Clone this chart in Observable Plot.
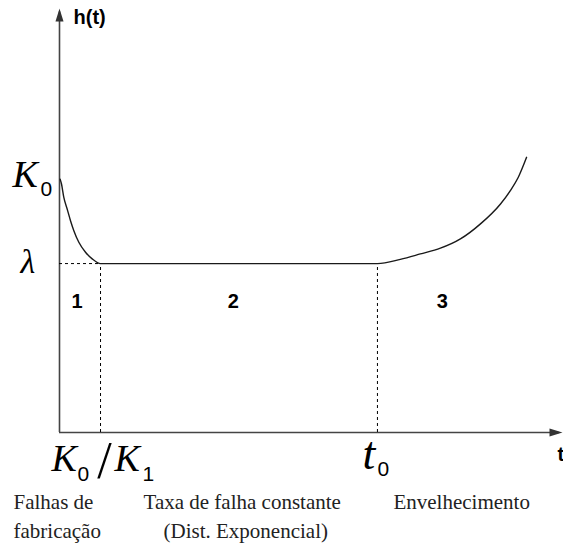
<!DOCTYPE html>
<html>
<head>
<meta charset="utf-8">
<script src="https://cdn.jsdelivr.net/npm/d3@7"></script>
<script src="https://cdn.jsdelivr.net/npm/@observablehq/plot@0.6"></script>
<style>
  body { margin: 0; background: #fff; }
  #chart svg { display: block; }
</style>
</head>
<body>
<div id="chart"></div>
<script>
// Bathtub hazard-rate curve h(t): infant mortality, constant rate, wear-out.

// Key levels of the hazard function
const K0 = 1.5;          // initial hazard h(0)
const lambda = 1.0;      // constant hazard level
const tBurnIn = 1.29;    // end of the early-failure phase, K0/K1
const t0 = 10;           // start of the wear-out phase
const tMax = 15.82;      // end of the time axis
const hMax = 2.51;       // top of the h(t) axis

// Early-failure (decreasing) branch
const burnInT = [0.02, 0.063, 0.136, 0.241, 0.346, 0.451, 0.608, 0.818, 1.028, 1.29];
const burnInH = [1.5, 1.471, 1.392, 1.323, 1.254, 1.195, 1.126, 1.067, 1.028, 1.0];

// Wear-out (increasing) branch
const wearOutT = [10.0, 10.72, 11.35, 11.98, 12.61, 13.24, 13.87, 14.18, 14.43, 14.69];
const wearOutH = [1.0, 1.025, 1.057, 1.091, 1.146, 1.235, 1.353, 1.432, 1.511, 1.629];

// Phase numbers and their positions along t
const regionLabels = ["1", "2", "3"];
const regionT = [0.55, 5.47, 12.04];

// Phase descriptions under the axis
const captionLines = ["Falhas de", "fabricação", "Taxa de falha constante", "(Dist. Exponencial)", "Envelhecimento"];

const curve = [
  ...burnInT.map((t, i) => ({t, h: burnInH[i]})),
  ...wearOutT.map((t, i) => ({t, h: wearOutH[i]}))
];

const serif = "'Liberation Serif', 'Times New Roman', Times, serif";
const sans = "'Liberation Sans', Arial, Helvetica, sans-serif";
const narrow = "'Liberation Sans Narrow', 'Liberation Sans', Arial, sans-serif";

// Filled arrowheads for the two axes
const arrowUp = {draw(ctx) { ctx.moveTo(0, 0); ctx.lineTo(4, 13); ctx.lineTo(-4, 13); ctx.closePath(); }};
const arrowRight = {draw(ctx) { ctx.moveTo(0, 0); ctx.lineTo(-13, 4); ctx.lineTo(-13, -4); ctx.closePath(); }};

function label(text, x, y, dx, dy, style) {
  return Plot.text([{x, y, text}], {
    x: "x", y: "y", text: "text", dx, dy,
    textAnchor: "start", lineAnchor: "bottom", fill: "#000", ...style
  });
}

const italicK = {fontFamily: serif, fontStyle: "italic", fontSize: 38};
const sub = {fontFamily: narrow, fontSize: 21};
const caption = {fontFamily: serif, fontSize: 21, fill: "#222"};
const boldSans = {fontFamily: sans, fontWeight: "bold", fontSize: 20};

const chart = Plot.plot({
  width: 563,
  height: 544,
  marginLeft: 59,
  marginRight: 1,
  marginTop: 8,
  marginBottom: 112,
  x: {domain: [0, tMax], axis: null},
  y: {domain: [0, hMax], axis: null},
  marks: [
    // axes
    Plot.ruleX([0], {y1: 0, y2: hMax - 0.02, stroke: "#444", strokeWidth: 1.6}),
    Plot.ruleY([0], {x1: 0, x2: tMax - 0.1, stroke: "#444", strokeWidth: 1.6}),
    Plot.dot([{x: 0, y: hMax}], {x: "x", y: "y", symbol: arrowUp, fill: "#333", stroke: "none"}),
    Plot.dot([{x: tMax, y: 0}], {x: "x", y: "y", symbol: arrowRight, fill: "#333", stroke: "none"}),

    // reference dashes
    Plot.ruleY([lambda], {x1: 0, x2: tBurnIn, stroke: "#000", strokeWidth: 1, strokeDasharray: "3,3"}),
    Plot.ruleX([tBurnIn, t0], {y1: 0, y2: lambda, stroke: "#000", strokeWidth: 1, strokeDasharray: "3,3"}),

    // hazard curve
    Plot.line(curve, {x: "t", y: "h", curve: "monotone-x", stroke: "#1a1a1a", strokeWidth: 1.4}),

    // axis titles
    label("h(t)", 0, hMax, 14, 15, boldSans),
    label("t", tMax, 0, -5, 28, boldSans),

    // level labels on the h(t) axis
    label("K", 0, K0, -47, 7.5, italicK),
    label("0", 0, K0, -19, 16.5, sub),
    label("λ", 0, lambda, -39, 9, {fontFamily: serif, fontStyle: "italic", fontSize: 34}),

    // time marks on the t axis
    label("K", tBurnIn, 0, -49, 38, italicK),
    label("0", tBurnIn, 0, -23, 48, sub),
    Plot.text([{x: tBurnIn, y: 0, text: "/"}], {x: "x", y: "y", text: "text", dx: 4, dy: 45, textAnchor: "middle", lineAnchor: "bottom", fontFamily: serif, fontSize: 52, fill: "#000"}),
    label("K", tBurnIn, 0, 14, 38, italicK),
    label("1", tBurnIn, 0, 42, 48, sub),
    label("t", t0, 0, -15, 36, {fontFamily: serif, fontStyle: "italic", fontSize: 46}),
    label("0", t0, 0, 0, 43, sub),

    // phase numbers
    Plot.text(regionLabels, {x: (d, i) => regionT[i], y: () => lambda, text: d => d, dy: 44, textAnchor: "middle", lineAnchor: "bottom", ...boldSans, fill: "#000"}),

    // phase descriptions
    label(captionLines[0], 0, 0, -46, 76, caption),
    label(captionLines[1], 0, 0, -46, 105, caption),
    label(captionLines[2], tBurnIn, 0, 43, 76, caption),
    label(captionLines[3], tBurnIn, 0, 63, 105, caption),
    label(captionLines[4], t0, 0, 16, 76, caption)
  ]
});

document.getElementById("chart").append(chart);
</script>
</body>
</html>
